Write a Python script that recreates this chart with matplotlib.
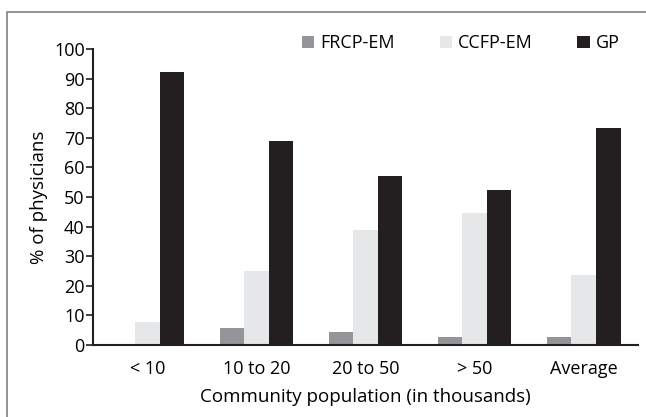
import matplotlib
matplotlib.use('Agg')
import numpy as np
import matplotlib.pyplot as plt
from matplotlib.patches import Rectangle

plt.rcParams['font.family'] = ['Open Sans', 'DejaVu Sans']

categories = ['< 10', '10 to 20', '20 to 50', '> 50', 'Average']
frcp = [0, 5.7, 4.4, 2.7, 2.7]
ccfp = [7.7, 25, 39, 44.5, 23.6]
gp = [92.3, 69, 57, 52.5, 73.5]
series_names = ['FRCP-EM', 'CCFP-EM', 'GP']
colors = ['#939598', '#e6e7e8', '#231f20']

fig = plt.figure(figsize=(6.46, 4.17), dpi=100)
ax = fig.add_axes([0.144, 0.173, 0.844, 0.709])

x = np.arange(len(categories))
w = 0.225
for i, (vals, name, c) in enumerate(zip([frcp, ccfp, gp], series_names, colors)):
    ax.bar(x + (i - 1) * w, vals, w, color=c, label=name, zorder=2)

ax.set_xlim(-0.5, 4.5)
ax.set_ylim(0, 100)
ax.set_yticks(range(0, 101, 10))
ax.set_xticks(x)
ax.set_xticklabels(categories, fontsize=13)
ax.tick_params(axis='x', length=0, pad=11)
ax.tick_params(axis='y', labelsize=13, length=5, width=1.2, color='#231f20', pad=1)
for s in ['top', 'right']:
    ax.spines[s].set_visible(False)
for s in ['left', 'bottom']:
    ax.spines[s].set_linewidth(1.5)
    ax.spines[s].set_color('#231f20')

ax.set_xlabel('Community population (in thousands)', fontsize=13.5, labelpad=7)
ax.set_ylabel('% of physicians', fontsize=13.5, labelpad=4)

ax.legend(loc='upper right', bbox_to_anchor=(0.97, 0.935), bbox_transform=fig.transFigure,
          ncol=3, frameon=False, fontsize=13, handlelength=0.7, handleheight=0.7,
          handletextpad=0.3, columnspacing=2.5, borderaxespad=0)

fig.patches.append(Rectangle((0.011, -0.1), 1.5, 0.1 + 0.971, transform=fig.transFigure,
                             fill=False, edgecolor='#808080', linewidth=1.2))

fig.savefig('out.png', dpi=100)
